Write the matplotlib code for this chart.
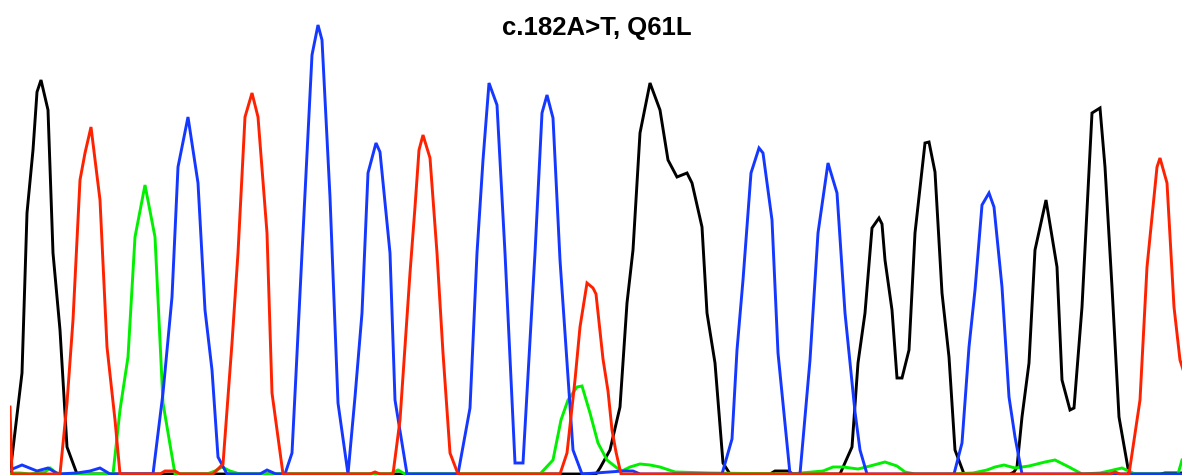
import matplotlib
matplotlib.use("Agg")
import matplotlib.pyplot as plt

title = "c.182A>T, Q61L"

# ---- chromatogram traces: scan position and signal intensity per channel ----
black_scan = [0, 12, 17, 23, 27, 31, 38, 43, 50, 57, 67,
              586, 590, 600, 610, 617, 623, 630, 640, 650, 658, 667, 677, 682, 692, 697, 705, 713, 720,
              760, 765, 778, 783,
              830, 842, 848, 855, 862, 869, 872, 875, 882, 887, 892, 899, 905, 915, 919, 925, 932, 939, 945, 954,
              1000, 1004, 1007, 1012, 1019, 1025, 1036, 1047, 1052, 1060, 1064, 1072, 1082, 1090, 1095, 1102, 1109, 1119,
              1150, 1155, 1172]
black_val = [0, 101, 261, 324, 382, 394, 364, 221, 144, 27, 0,
             0, 6, 24, 67, 171, 224, 341, 391, 364, 314, 297, 301, 291, 247, 161, 111, 11, 0,
             0, 3, 3, 0,
             0, 27, 111, 161, 246, 256, 250, 214, 164, 96, 96, 124, 241, 331, 332, 302, 181, 117, 24, 0,
             0, 2, 7, 57, 111, 224, 274, 207, 94, 64, 66, 167, 361, 366, 307, 187, 57, 0,
             0, 1, 1]

red_scan = [0, 2, 50, 57, 63, 70, 75, 81, 90, 97, 105, 110,
            150, 155, 165, 170,
            203, 213, 222, 228, 235, 242, 248, 257, 262, 273,
            360, 365, 370,
            383, 390, 400, 405, 409, 413, 420, 427, 433, 440, 448,
            550, 557, 565, 570, 577, 583, 586, 593, 598, 602, 606, 611,
            1100, 1105, 1110, 1119, 1130, 1137, 1141, 1147, 1150, 1157, 1164, 1170, 1176]
red_val = [67, 0, 0, 71, 154, 294, 321, 347, 274, 127, 54, 0,
           0, 3, 3, 0,
           0, 10, 131, 221, 357, 381, 357, 241, 81, 0,
           0, 2, 0,
           0, 54, 201, 267, 324, 339, 316, 221, 121, 21, 0,
           0, 21, 94, 147, 191, 186, 180, 115, 83, 44, 22, 0,
           0, 2, 0, 0, 74, 207, 247, 307, 316, 291, 167, 114, 95]

green_scan = [0, 5, 10, 20, 35, 40, 45, 50,
              103, 110, 118, 125, 135, 145, 153, 165,
              197, 205, 212, 220, 230,
              380, 388, 395,
              530, 543, 551, 558, 567, 572, 580, 588, 597, 607, 612, 620, 630, 640, 650, 665, 700,
              780, 813, 823, 833, 848, 860, 875, 887, 895, 905,
              940, 963, 977, 985, 994, 1005, 1019, 1035, 1045, 1059, 1072, 1090, 1099, 1112, 1125,
              1168, 1172]
green_val = [0, 1, 1, 0, 2, 6, 2, 0,
             0, 64, 117, 237, 289, 237, 71, 0,
             0, 3, 7, 3, 0,
             0, 4, 0,
             0, 14, 54, 74, 87, 88, 61, 31, 14, 6, 3, 7, 10, 9, 7, 2, 1,
             0, 3, 7, 7, 5, 8, 12, 8, 2, 0,
             0, 1, 4, 7, 9, 6, 8, 12, 14, 7, 0, 1, 3, 6, 0,
             0, 14]

blue_scan = [0, 12, 27, 38, 48, 67, 80, 90, 100,
             143, 153, 162, 168, 178, 188, 195, 202, 208, 217,
             250, 257, 266,
             275, 282, 286, 292, 302, 308, 312, 320, 328, 338, 345, 352, 358, 366, 370, 380, 385, 397,
             448, 460, 467, 473, 479, 487, 495, 505, 513, 525, 532, 537, 543, 550, 563, 572,
             613, 623, 630,
             712, 722, 727, 733, 741, 749, 753, 762, 768, 780,
             790, 800, 808, 818, 827, 835, 845, 850, 857,
             944, 952, 959, 965, 972, 979, 984, 992, 999, 1005, 1012, 1172]
blue_val = [4, 9, 3, 6, 0, 1, 3, 6, 0,
            0, 81, 177, 307, 357, 291, 164, 104, 17, 0,
            0, 4, 0,
            0, 21, 100, 221, 419, 449, 434, 277, 71, 0, 77, 161, 301, 331, 322, 221, 74, 0,
            0, 66, 221, 314, 391, 369, 221, 11, 11, 221, 361, 379, 356, 214, 24, 0,
            3, 3, 0,
            0, 35, 124, 194, 301, 326, 321, 254, 121, 0,
            0, 114, 241, 311, 281, 161, 62, 24, 0,
            0, 31, 127, 184, 269, 281, 267, 187, 77, 37, 0, 0]

channels = [
    (black_scan, black_val, "#000000"),
    (green_scan, green_val, "#00f000"),
    (blue_scan, blue_val, "#1438ff"),
    (red_scan, red_val, "#ff2200"),
]

W, H = 1182, 475
fig = plt.figure(figsize=(W / 100, H / 100), dpi=100)
fig.patch.set_facecolor("white")
ax = fig.add_axes([10 / W, 0, 1172 / W, 1])
for sc, val, col in channels:
    ax.plot(sc, val, color=col, lw=2.1, solid_joinstyle="miter")
ax.set_xlim(0, 1172)
ax.set_ylim(-1, 474)
ax.axis("off")

fig.text(597 / W, 1 - 28 / H, title, ha="center", va="center",
         fontsize=18.5, fontweight="bold", family="Liberation Sans")

fig.savefig("out.png", dpi=100, facecolor="white")
